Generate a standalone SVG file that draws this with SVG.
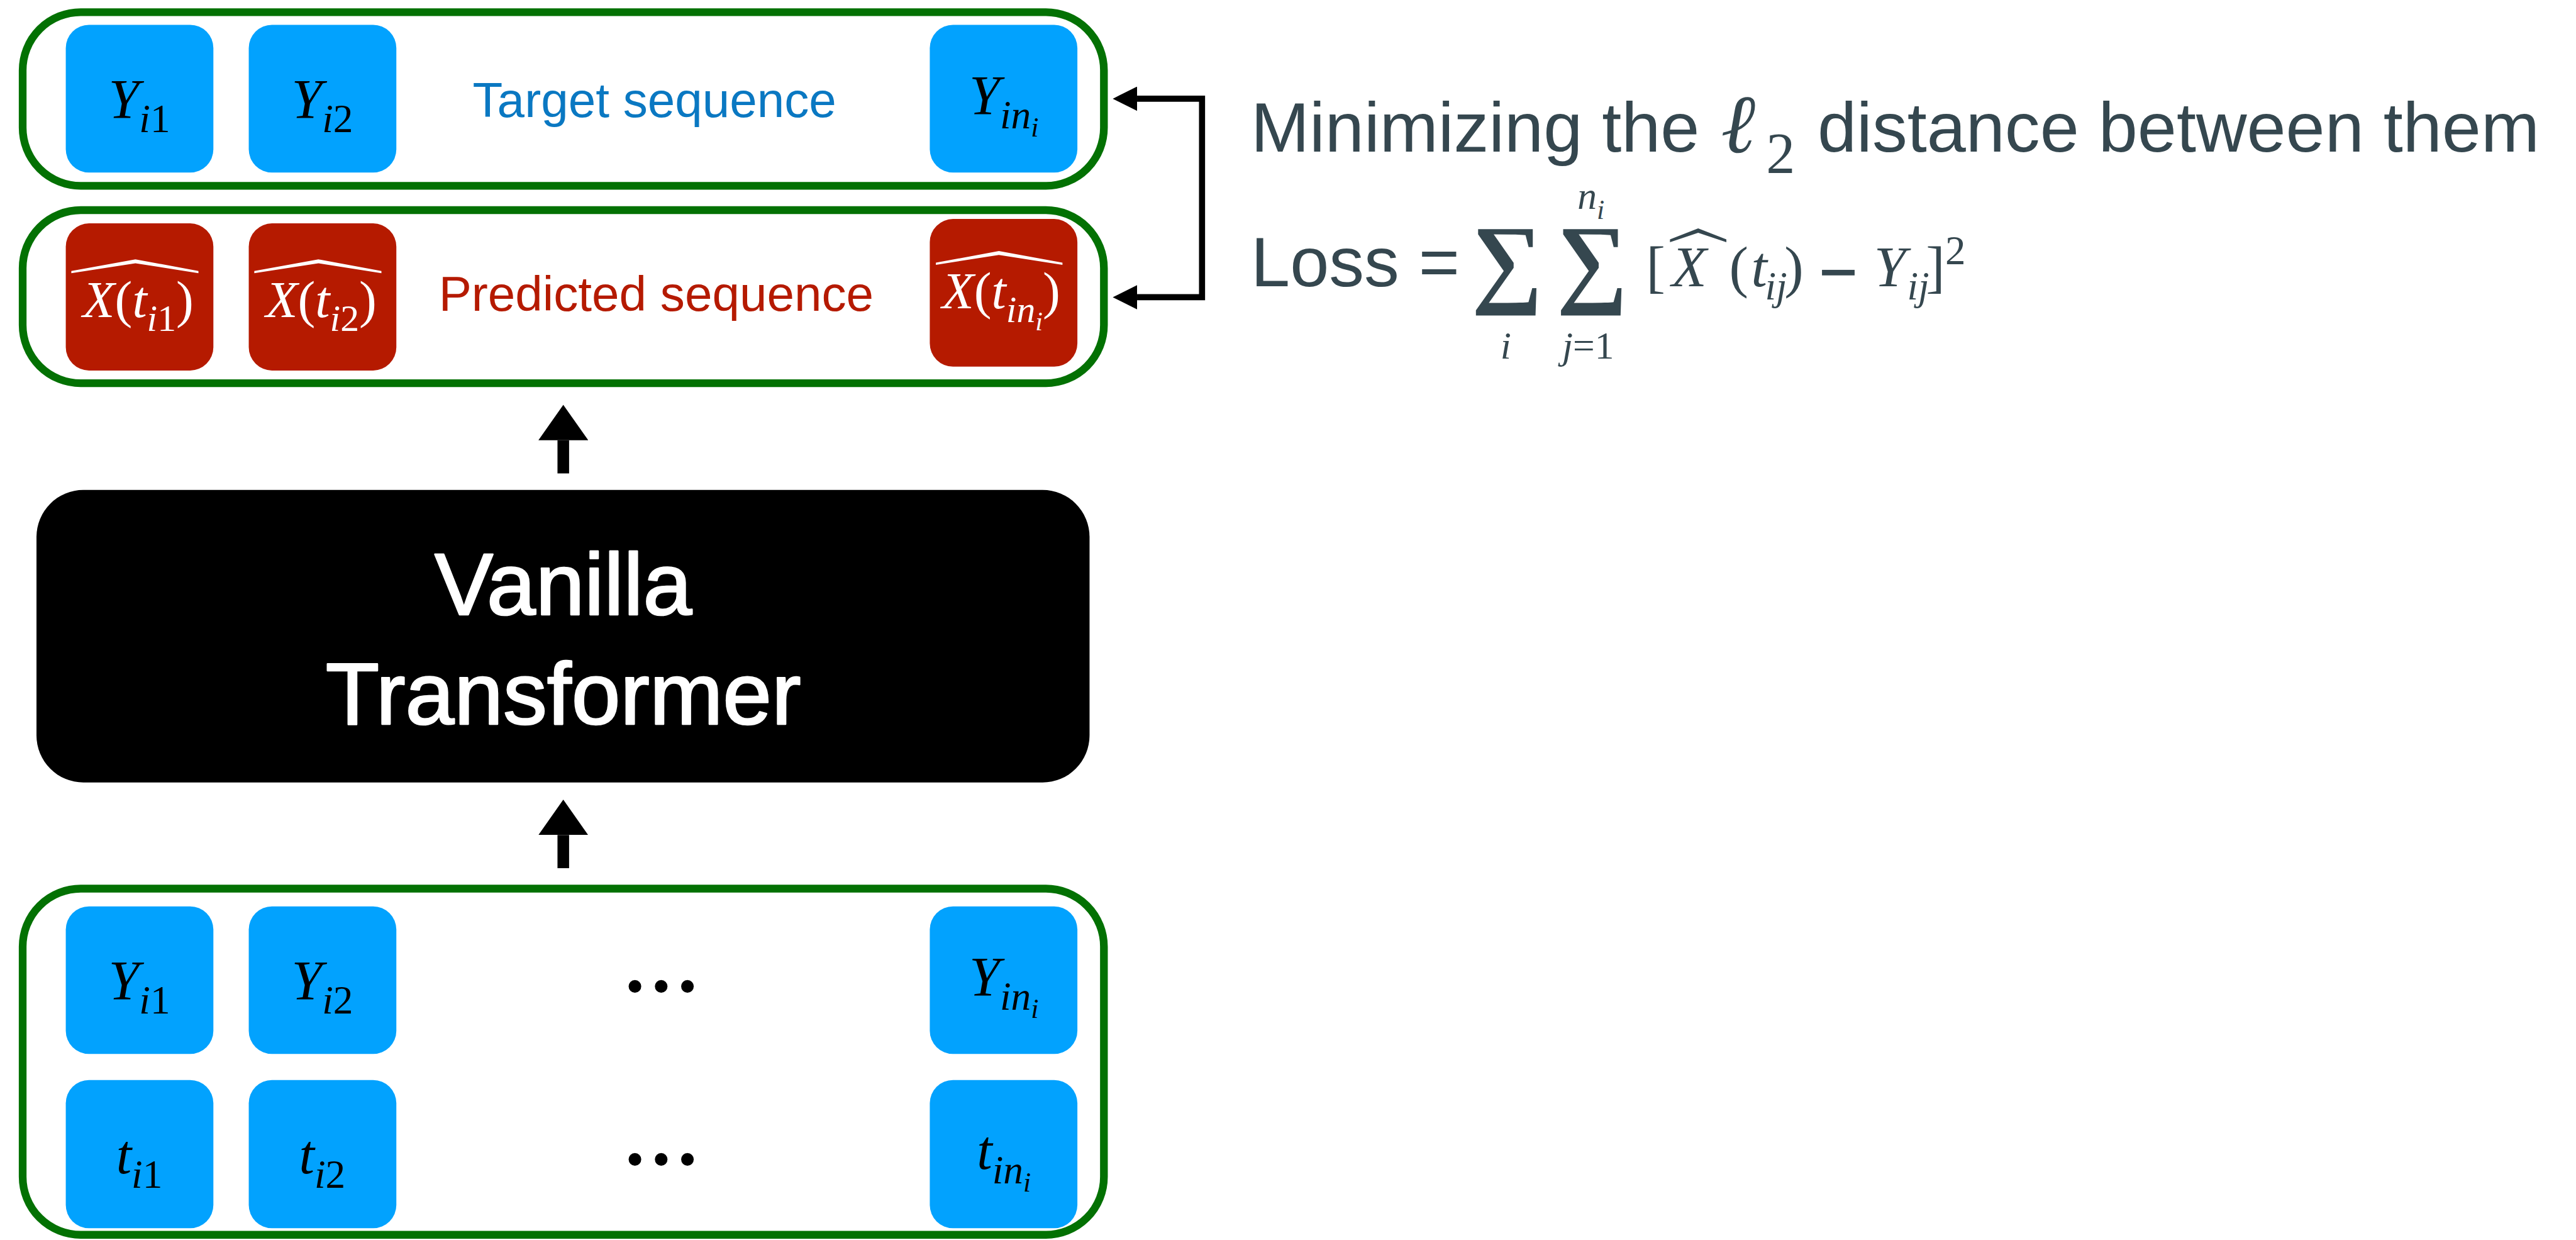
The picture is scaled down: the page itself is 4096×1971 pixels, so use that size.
<svg xmlns="http://www.w3.org/2000/svg" width="4096" height="1971" viewBox="0 0 4096 1971">
  <style>
    .frame { fill: #ffffff; stroke: #037103; stroke-width: 14; }
    .cellB { fill: #02A2FE; }
    .cellR { fill: #B51A00; }
    .sans { font-family: "Liberation Sans", Arial, sans-serif; }
    .math { font-family: "Liberation Serif", "Times New Roman", serif; }
    .it { font-style: italic; }
    .ink { fill: #000000; }
    .paper { fill: #ffffff; }
    .slate { fill: #35474F; }
    .heavy { stroke: #ffffff; stroke-width: 3; stroke-linejoin: round; }
    .wire { fill: none; stroke: #000000; stroke-width: 11; }
    .stem { fill: none; stroke: #000000; stroke-width: 21; }
  </style>
  <defs>
    <marker id="tipS" viewBox="0 0 44 44" markerUnits="userSpaceOnUse" markerWidth="44" markerHeight="44" refX="0" refY="22" orient="auto-start-reverse">
      <path d="M0,0 L44,22 L0,44 z" fill="#000000"/>
    </marker>
    <marker id="tipL" viewBox="0 0 64 90" markerUnits="userSpaceOnUse" markerWidth="64" markerHeight="90" refX="0" refY="45" orient="auto">
      <path d="M0,0 L64,45 L0,90 z" fill="#000000"/>
    </marker>
  </defs>
  <rect width="4096" height="1971" fill="#ffffff"/>
  <g transform="scale(0.87897)">

    <!-- target sequence row -->
    <g id="target">
      <rect class="frame" x="41" y="22" width="1956" height="314" rx="105"/>
      <rect class="cellB" x="119" y="45" width="267" height="267" rx="42"/>
      <rect class="cellB" x="450" y="45" width="267" height="267" rx="42"/>
      <rect class="cellB" x="1682" y="45" width="267" height="267" rx="42"/>
      <text class="math ink" x="252" y="213" font-size="100" text-anchor="middle"><tspan class="it">Y</tspan><tspan class="it" font-size="72" dy="26">i</tspan><tspan font-size="72">1</tspan></text>
      <text class="math ink" x="583" y="213" font-size="100" text-anchor="middle"><tspan class="it">Y</tspan><tspan class="it" font-size="72" dy="26">i</tspan><tspan font-size="72">2</tspan></text>
      <text class="math ink" x="1816" y="206" font-size="100" text-anchor="middle"><tspan class="it">Y</tspan><tspan class="it" font-size="72" dy="26">in</tspan><tspan class="it" font-size="50" dy="15">i</tspan></text>
      <text class="sans" x="1184" y="212" font-size="89" fill="#0A78C2" text-anchor="middle">Target sequence</text>
    </g>

    <!-- predicted sequence row -->
    <g id="predicted">
      <rect class="frame" x="41" y="380" width="1956" height="313" rx="105"/>
      <rect class="cellR" x="119" y="404" width="267" height="266" rx="42"/>
      <rect class="cellR" x="450" y="404" width="267" height="266" rx="42"/>
      <rect class="cellR" x="1682" y="396" width="267" height="267" rx="42"/>
      <polygon class="paper" points="129,490 245,469 359,490 359,494 245,476 129,494"/>
      <polygon class="paper" points="460,490 576,469 690,490 690,494 576,476 460,494"/>
      <polygon class="paper" points="1693,475 1807,454 1922,475 1922,479 1807,461 1693,479"/>
      <text class="math paper" x="250" y="573" font-size="95" text-anchor="middle"><tspan class="it">X</tspan>(<tspan class="it">t</tspan><tspan class="it" font-size="68" dy="25">i</tspan><tspan font-size="68">1</tspan><tspan dy="-25">)</tspan></text>
      <text class="math paper" x="581" y="573" font-size="95" text-anchor="middle"><tspan class="it">X</tspan>(<tspan class="it">t</tspan><tspan class="it" font-size="68" dy="25">i</tspan><tspan font-size="68">2</tspan><tspan dy="-25">)</tspan></text>
      <text class="math paper" x="1811" y="557" font-size="95" text-anchor="middle"><tspan class="it">X</tspan>(<tspan class="it">t</tspan><tspan class="it" font-size="68" dy="25">in</tspan><tspan class="it" font-size="48" dy="15">i</tspan><tspan dy="-40">)</tspan></text>
      <text class="sans" x="1187" y="562" font-size="89" fill="#B51A00" text-anchor="middle">Predicted sequence</text>
    </g>

    <!-- model block -->
    <g id="transformer">
      <rect x="66" y="886" width="1905" height="529" rx="85" fill="#000000"/>
      <text class="sans paper heavy" x="1019" y="1111" font-size="159" text-anchor="middle">Vanilla</text>
      <text class="sans paper heavy" x="1019" y="1309" font-size="159" text-anchor="middle">Transformer</text>
    </g>

    <!-- input sequence: values and times -->
    <g id="inputs">
      <rect class="frame" x="41" y="1607" width="1956" height="626" rx="105"/>
      <rect class="cellB" x="119" y="1639" width="267" height="267" rx="42"/>
      <rect class="cellB" x="450" y="1639" width="267" height="267" rx="42"/>
      <rect class="cellB" x="1682" y="1639" width="267" height="267" rx="42"/>
      <rect class="cellB" x="119" y="1953" width="267" height="268" rx="42"/>
      <rect class="cellB" x="450" y="1953" width="267" height="268" rx="42"/>
      <rect class="cellB" x="1682" y="1953" width="267" height="268" rx="42"/>
      <text class="math ink" x="252" y="1807" font-size="100" text-anchor="middle"><tspan class="it">Y</tspan><tspan class="it" font-size="72" dy="26">i</tspan><tspan font-size="72">1</tspan></text>
      <text class="math ink" x="583" y="1807" font-size="100" text-anchor="middle"><tspan class="it">Y</tspan><tspan class="it" font-size="72" dy="26">i</tspan><tspan font-size="72">2</tspan></text>
      <text class="math ink" x="1816" y="1800" font-size="100" text-anchor="middle"><tspan class="it">Y</tspan><tspan class="it" font-size="72" dy="26">in</tspan><tspan class="it" font-size="50" dy="15">i</tspan></text>
      <text class="math ink" x="252" y="2122" font-size="100" text-anchor="middle"><tspan class="it">t</tspan><tspan class="it" font-size="72" dy="26">i</tspan><tspan font-size="72">1</tspan></text>
      <text class="math ink" x="583" y="2122" font-size="100" text-anchor="middle"><tspan class="it">t</tspan><tspan class="it" font-size="72" dy="26">i</tspan><tspan font-size="72">2</tspan></text>
      <text class="math ink" x="1816" y="2114" font-size="100" text-anchor="middle"><tspan class="it">t</tspan><tspan class="it" font-size="72" dy="26">in</tspan><tspan class="it" font-size="50" dy="15">i</tspan></text>
      <text class="math ink" x="1196" y="1793" font-size="141" font-weight="bold" text-anchor="middle">…</text>
      <text class="math ink" x="1196" y="2106" font-size="141" font-weight="bold" text-anchor="middle">…</text>
    </g>

    <!-- loss annotation -->
    <g id="loss">
      <text class="sans slate" x="2263" y="274" font-size="127">Minimizing the</text>
      <text class="math slate it" x="3113" y="275" font-size="150">ℓ</text>
      <text class="math slate" x="3195" y="313" font-size="105">2</text>
      <text class="sans slate" x="3288" y="274" font-size="127">distance between them</text>

      <text class="sans slate" x="2263" y="518" font-size="127">Loss =</text>
      <text class="math slate" x="2726" y="533" font-size="180" font-weight="bold" text-anchor="middle">∑</text>
      <text class="math slate" x="2880" y="533" font-size="180" font-weight="bold" text-anchor="middle">∑</text>
      <text class="math slate it" x="2724" y="648" font-size="70" text-anchor="middle">i</text>
      <text class="math slate" x="2873" y="648" font-size="70" text-anchor="middle"><tspan class="it">j</tspan>=1</text>
      <text class="math slate" x="2878" y="378" font-size="70" text-anchor="middle"><tspan class="it">n</tspan><tspan class="it" font-size="50" dy="18">i</tspan></text>
      <text class="math slate" x="2978" y="518" font-size="104">[</text>
      <polygon class="slate" points="3021,433 3072,413 3123,433 3123,438 3072,421 3021,438"/>
      <text class="math slate it" x="3024" y="518" font-size="104">X</text>
      <text class="math slate" x="3128" y="518" font-size="104">(</text>
      <text class="math slate it" x="3168" y="518" font-size="104">t</text>
      <text class="math slate it" x="3193" y="542" font-size="72">ij</text>
      <text class="math slate" x="3228" y="518" font-size="104">)</text>
      <rect class="slate" x="3296" y="488" width="59" height="10"/>
      <text class="math slate it" x="3390" y="518" font-size="104">Y</text>
      <text class="math slate it" x="3450" y="542" font-size="72">ij</text>
      <text class="math slate" x="3484" y="518" font-size="104">]</text>
      <text class="math slate" x="3519" y="478" font-size="74">2</text>
    </g>

    <!-- connectors -->
    <g id="connectors">
      <path class="wire" d="M2057,178.5 H2174.5 V537.5 H2057" marker-start="url(#tipS)" marker-end="url(#tipS)"/>
      <path class="stem" d="M1019,856 V796" marker-end="url(#tipL)"/>
      <path class="stem" d="M1019,1570 V1510" marker-end="url(#tipL)"/>
    </g>
  </g>
</svg>
